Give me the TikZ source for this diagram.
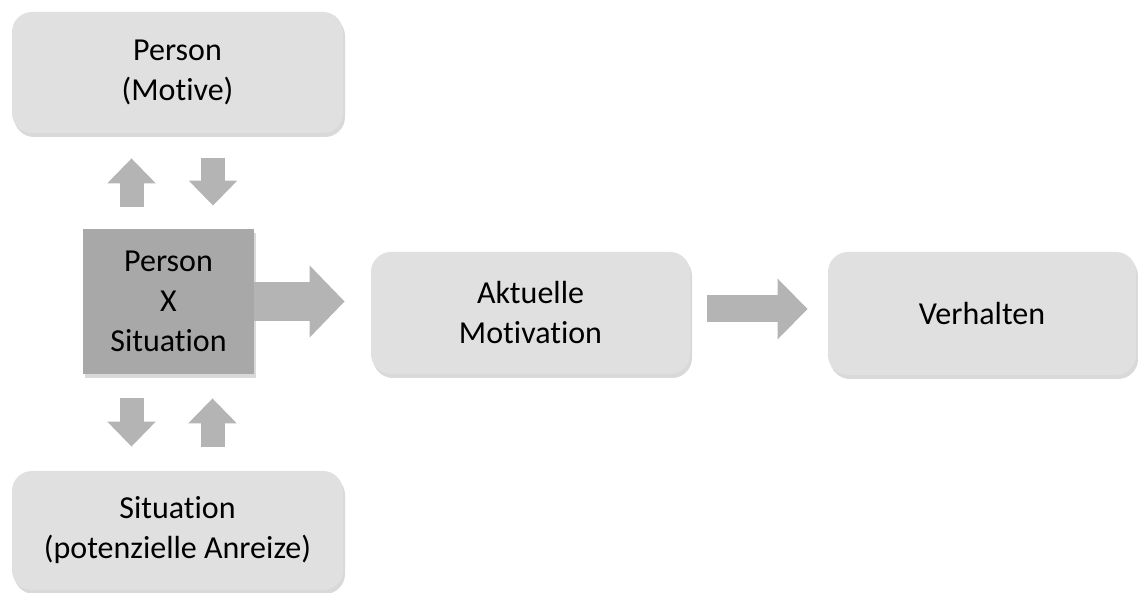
\documentclass[tikz,border=0pt]{standalone}
\usepackage{fontspec}
\setmainfont{Carlito}[RawFeature={-liga}]
\usetikzlibrary{arrows.meta,shadows}
\definecolor{boxgray}{HTML}{E0E0E0}
\definecolor{midgray}{HTML}{A8A8A8}
\definecolor{arrgray}{HTML}{B4B4B4}
\tikzset{
  box/.style={fill=boxgray, rounded corners=10pt, align=center, inner sep=0pt,
    drop shadow={opacity=.3, shadow xshift=1pt, shadow yshift=-2pt}},
  fat/.style={draw=arrgray, line width=#1},
  fat/.default=12pt
}
\begin{document}
\begin{tikzpicture}[font=\fontsize{16}{20}\selectfont]
\useasboundingbox (0,0) rectangle (569pt,296.5pt);
\node[box, minimum width=165.5pt, minimum height=60.5pt] (pm) at (88.75pt,260.25pt) {Person\\(Motive)};
\node[box, rounded corners=0pt, fill=midgray, minimum width=85.5pt, minimum height=72.5pt] (xs) at (84.25pt,145.75pt) {Person\\X\\Situation};
\node[box, minimum width=165.5pt, minimum height=59.5pt] (sit) at (88.75pt,31.25pt) {Situation\\(potenzielle Anreize)};
\node[box, minimum width=159.5pt, minimum height=61pt] (am) at (265.25pt,140pt) {Aktuelle\\Motivation};
\node[box, minimum width=154pt, minimum height=61.5pt] (vh) at (491pt,139.75pt) {Verhalten};
% block arrows
\foreach \dx/\a/\b/\ss/\se in {-18.5pt/xs.north/pm.south/11pt/12.5pt,17.75pt/pm.south/xs.north/12.5pt/11.5pt,-18.5pt/xs.south/sit.north/12pt/12pt,17.5pt/sit.north/xs.south/12pt/12pt}{
  \draw[fat, -{Triangle[length=12.5pt,width=23.5pt]}, shorten <=\ss, shorten >=\se]
    ([xshift=\dx]\a) -- ([xshift=\dx]\a |- \b);
}
\draw[fat=19.5pt, -{Triangle[length=17.5pt,width=35pt]}, shorten >=13pt] (xs.east) -- (xs.east -| am.west);
\draw[fat=13.5pt, -{Triangle[length=15pt,width=29.5pt]}, shorten <=8.5pt, shorten >=10pt]
  ([yshift=2pt]am.east) -- ([yshift=2pt]am.east -| vh.west);
\end{tikzpicture}
\end{document}
